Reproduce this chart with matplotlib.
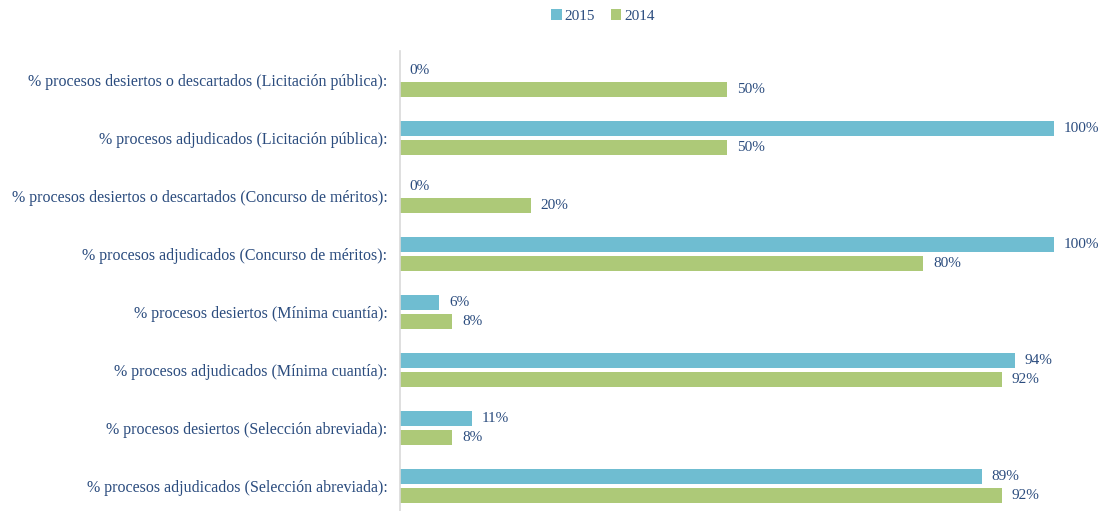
import matplotlib
matplotlib.use("Agg")
import matplotlib.pyplot as plt
import numpy as np

categories = [
    "% procesos desiertos o descartados (Licitación pública):",
    "% procesos adjudicados (Licitación pública):",
    "% procesos desiertos o descartados (Concurso de méritos):",
    "% procesos adjudicados (Concurso de méritos):",
    "% procesos desiertos (Mínima cuantía):",
    "% procesos adjudicados (Mínima cuantía):",
    "% procesos desiertos (Selección abreviada):",
    "% procesos adjudicados (Selección abreviada):",
]
values_2015 = [0, 100, 0, 100, 6, 94, 11, 89]
values_2014 = [50, 50, 20, 80, 8, 92, 8, 92]

c2015 = "#6FBDD1"
c2014 = "#ADC978"
txt = "#2B4C7E"

plt.rcParams['font.family'] = ['Liberation Serif', 'DejaVu Serif']

fig = plt.figure(figsize=(11.05, 5.11), dpi=100)
ax = fig.add_axes([400/1105, 1 - 515/511, (1054-400)/1105, (515-51)/511])

y = np.arange(len(categories))
h = 0.26
off = 0.165
ax.barh(y - off, values_2015, height=h, color=c2015, label="2015")
ax.barh(y + off, values_2014, height=h, color=c2014, label="2014")

for yi, v in zip(y - off, values_2015):
    ax.text(v + 1.5, yi, f"{v}%", va="center", ha="left", color=txt, fontsize=11)
for yi, v in zip(y + off, values_2014):
    ax.text(v + 1.5, yi, f"{v}%", va="center", ha="left", color=txt, fontsize=11)

ax.set_xlim(0, 100)
ax.set_ylim(len(categories) - 0.5, -0.5)
ax.set_yticks(y)
ax.set_yticklabels(categories, color=txt, fontsize=11.5)
ax.tick_params(axis="y", length=0, pad=9)
ax.set_xticks([])
for s in ["top", "right", "bottom"]:
    ax.spines[s].set_visible(False)
ax.spines["left"].set_color("#D9D9D9")
ax.spines["left"].set_linewidth(1.2)

leg = fig.legend(loc="center", bbox_to_anchor=(603/1105, 1 - 16/511), ncol=2, frameon=False,
                 fontsize=11, handlelength=0.7, handleheight=0.7, handletextpad=0.2,
                 columnspacing=1.0)
for t in leg.get_texts():
    t.set_color(txt)

fig.savefig("out.png", dpi=100)
